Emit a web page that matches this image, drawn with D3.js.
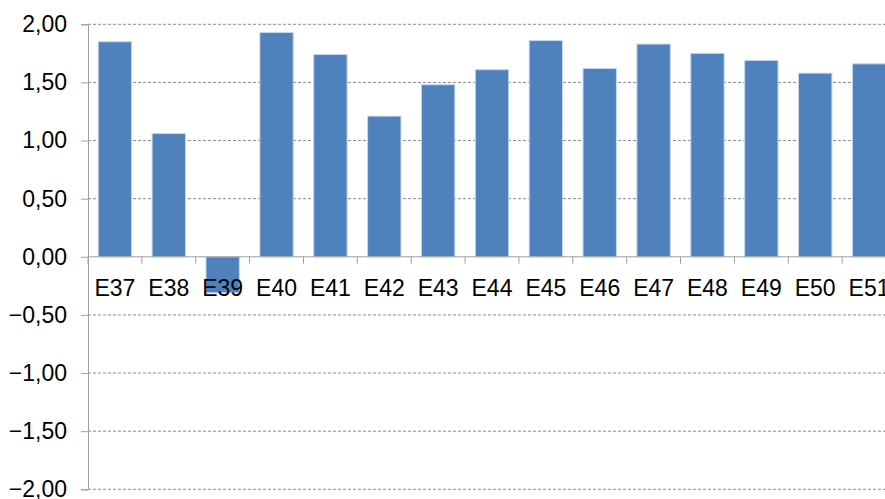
<!DOCTYPE html>
<html>
<head>
<meta charset="utf-8">
<script src="https://cdn.jsdelivr.net/npm/d3@7"></script>
<style>
  body { margin: 0; background: #fff; }
  svg { display: block; font-family: "Liberation Sans", Arial, sans-serif; }
</style>
</head>
<body>
<div id="chart"></div>
<script>
var width = 885;
var height = 499;

var categories = ["E37", "E38", "E39", "E40", "E41", "E42", "E43", "E44", "E45", "E46", "E47", "E48", "E49", "E50", "E51"];
var values = [1.85, 1.06, -0.31, 1.93, 1.74, 1.21, 1.48, 1.61, 1.86, 1.62, 1.83, 1.75, 1.69, 1.58, 1.66];
var yTicks = [-2, -1.5, -1, -0.5, 0, 0.5, 1, 1.5, 2];

var svg = d3.select("#chart")
  .append("svg")
    .attr("width", width)
    .attr("height", height);

// chart runs off the right edge, like the original crop
var x = d3.scaleBand()
  .domain(categories)
  .range([88, 896])
  .paddingInner(0.38)
  .paddingOuter(0.19);

var y = d3.scaleLinear()
  .domain([-2, 2])
  .range([489.3, 24.3]);

var locale = d3.formatLocale({decimal: ",", thousands: ".", grouping: [3], currency: ["", ""]});
var fmt = locale.format(".2f");

// dashed gridlines
svg.append("g")
  .selectAll("line")
  .data(yTicks.filter(d => d !== 0))
  .enter().append("line")
    .attr("x1", 88)
    .attr("x2", width)
    .attr("y1", d => y(d))
    .attr("y2", d => y(d))
    .attr("stroke", "#8c8c8c")
    .attr("stroke-width", 1)
    .attr("stroke-dasharray", "3,2");

// y axis
var yAxis = svg.append("g")
  .attr("transform", "translate(88,0)")
  .call(d3.axisLeft(y).tickValues(yTicks).tickFormat(fmt).tickSize(7).tickPadding(14));
yAxis.select(".domain").attr("stroke", "#a0a0a0");
yAxis.selectAll(".tick line").attr("stroke", "#a0a0a0");
yAxis.selectAll("text")
  .attr("font-size", "23px")
  .attr("fill", "#000")
  .attr("font-family", "'Liberation Sans', Arial, sans-serif");

// bars
svg.append("g")
  .selectAll("rect")
  .data(values)
  .enter().append("rect")
    .attr("x", (d, i) => x(categories[i]))
    .attr("width", x.bandwidth())
    .attr("y", d => y(Math.max(0, d)))
    .attr("height", d => Math.abs(y(d) - y(0)))
    .attr("fill", "#4f81bd")
    .attr("stroke", "#c6d8ee")
    .attr("stroke-width", 1);

// zero line with category ticks between bands
var zero = svg.append("g");
zero.append("line")
  .attr("x1", 88).attr("x2", width)
  .attr("y1", y(0)).attr("y2", y(0))
  .attr("stroke", "#a0a0a0");
zero.selectAll("line.tk")
  .data(categories)
  .enter().append("line")
    .attr("class", "tk")
    .attr("x1", d => x(d) - x.step() * x.paddingInner() / 2)
    .attr("x2", d => x(d) - x.step() * x.paddingInner() / 2)
    .attr("y1", y(0))
    .attr("y2", y(0) + 7)
    .attr("stroke", "#a0a0a0");

// category labels
svg.append("g")
  .selectAll("text")
  .data(categories)
  .enter().append("text")
    .attr("x", d => x(d) + x.bandwidth() / 2)
    .attr("y", y(0) + 39)
    .attr("text-anchor", "middle")
    .attr("font-size", "23px")
    .attr("fill", "#000")
    .text(d => d);
</script>
</body>
</html>
